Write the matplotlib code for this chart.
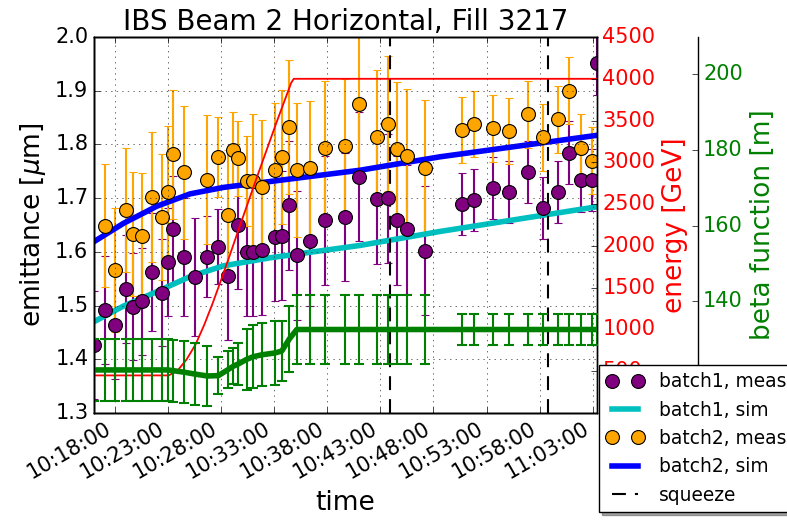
"""
IBS emittance growth, beam 2 horizontal, fill 3217.
Measured emittance per batch vs. IBS simulation, with energy ramp and beta function.
"""
from datetime import datetime
import numpy as np
import matplotlib
matplotlib.use("Agg")
import matplotlib.pyplot as plt
import matplotlib.dates as mdates

plt.style.use("classic")
plt.rcParams["mathtext.fontset"] = "dejavusans"

DAY = "2012-10-20 "
nan = np.nan

# --- measurements (wire scanner) ---
t_meas = ["10:16:02", "10:17:05", "10:18:01", "10:19:03", "10:19:44", "10:20:35",
          "10:21:28", "10:22:25", "10:22:59", "10:23:31", "10:24:32", "10:25:33",
          "10:26:43", "10:27:45", "10:28:40", "10:29:10", "10:29:38", "10:30:25",
          "10:31:02", "10:31:50", "10:33:05", "10:33:43", "10:34:26", "10:35:08",
          "10:36:23", "10:37:47", "10:39:41", "10:40:59", "10:42:43", "10:43:45",
          "10:44:32", "10:45:29", "10:47:13", "10:50:43", "10:51:51", "10:53:38",
          "10:55:09", "10:56:53", "10:58:21", "10:59:42", "11:00:46", "11:01:52",
          "11:02:55", "11:03:24"]
emit_b1 = [1.427, 1.492, 1.464, 1.531, 1.498, 1.508, 1.562, 1.524, 1.581, 1.642, 1.590,
           1.554, 1.591, 1.610, 1.556, nan, 1.650, 1.600, 1.600, 1.603, 1.628, 1.630,
           1.687, 1.594, 1.620, 1.659, 1.665, 1.740, 1.698, 1.700, 1.659, 1.642, 1.602,
           1.689, 1.697, 1.719, 1.712, 1.749, 1.682, 1.711, 1.785, 1.733, 1.734, 1.952]
err_b1 = [0.10, 0.10, 0.10, 0.10, 0.10, 0.10, 0.11, 0.10, 0.10, 0.10, 0.11,
          0.11, 0.075, 0.07, 0.12, nan, 0.12, 0.12, 0.12, 0.12, 0.12, 0.12,
          0.12, 0.12, 0.12, 0.12, 0.12, 0.12, 0.12, 0.12, 0.12, 0.12, 0.12,
          0.058, 0.058, 0.058, 0.058, 0.058, 0.058, 0.058, 0.058, 0.058, 0.058, 0.06]
emit_b2 = [nan, 1.649, 1.566, 1.678, 1.633, 1.630, 1.702, 1.665, 1.712, 1.782, 1.748,
           nan, 1.734, 1.777, 1.669, 1.790, 1.774, 1.732, 1.732, 1.720, 1.752, 1.777,
           1.833, 1.752, 1.756, 1.793, 1.797, 1.875, 1.813, 1.839, 1.791, 1.779, 1.757,
           1.827, 1.838, 1.830, 1.825, 1.856, 1.813, 1.847, 1.900, 1.794, 1.770, nan]
err_b2 = [nan, 0.115, 0.115, 0.116, 0.116, 0.116, 0.121, 0.118, 0.123, 0.12, 0.124,
          nan, 0.12, 0.075, 0.12, 0.07, 0.07, 0.083, 0.125, 0.125, 0.125, 0.125,
          0.125, 0.125, 0.125, 0.125, 0.125, 0.125, 0.125, 0.125, 0.125, 0.125, 0.125,
          0.062, 0.062, 0.062, 0.062, 0.062, 0.062, 0.062, 0.062, 0.062, 0.062, nan]
beta = [121.8, 121.8, 121.8, 121.8, 121.8, 121.8, 121.8, 121.8, 121.8, 121.6, 121.2,
        120.7, 120.2, 120.3, 121.9, 122.8, 123.4, 124.6, 125.3, 125.8, 126.3, 126.8,
        130.0, 132.5, 132.5, 132.5, 132.5, 132.5, 132.5, 132.5, 132.5, 132.5, 132.5,
        132.5, 132.5, 132.5, 132.5, 132.5, 132.5, 132.5, 132.5, 132.5, 132.5, 132.5]
beta_err = [8.2, 8.2, 8.2, 8.2, 8.2, 8.2, 8.2, 8.2, 8.2, 8.2, 8.2,
            8.2, 8.0, 5.0, 4.8, 4.8, 5.5, 8.0, 8.3, 8.3, 8.5, 8.0,
            8.8, 9.0, 9.0, 9.0, 9.0, 9.0, 9.0, 9.0, 9.0, 9.0, 9.0,
            4.0, 4.0, 4.0, 4.0, 4.0, 4.0, 4.0, 4.0, 4.0, 4.0, 4.0]

# --- IBS simulation ---
t_sim = ["10:16:02", "10:18:48", "10:21:57", "10:25:05", "10:28:13", "10:32:37",
         "10:41:05", "10:48:37", "11:03:24"]
sim_b1 = [1.470, 1.499, 1.526, 1.554, 1.574, 1.589, 1.612, 1.638, 1.684]
sim_b2 = [1.619, 1.653, 1.685, 1.708, 1.720, 1.731, 1.752, 1.777, 1.817]

# --- energy ramp ---
t_energy = ["10:16:02", "10:23:05", "10:23:55", "10:24:45", "10:25:36", "10:26:24",
            "10:27:12", "10:28:00", "10:28:48", "10:29:48", "10:31:24", "10:33:12",
            "10:34:36", "10:34:51", "11:03:24"]
energy = [450, 450, 510, 640, 820, 1050, 1310, 1590, 1880, 2250, 2830, 3470,
          3950, 4000, 4000]

t_squeeze = ["10:43:55", "10:58:47"]

energy_ticks = [500, 1000, 1500, 2000, 2500, 3000, 3500, 4000, 4500]
beta_ticks = [140, 160, 180, 200]


def to_dt(lst):
    return [datetime.strptime(DAY + s, "%Y-%m-%d %H:%M:%S") for s in lst]


tm = to_dt(t_meas)
ts = to_dt(t_sim)
te = to_dt(t_energy)
tq = to_dt(t_squeeze)

fig = plt.figure(figsize=(7.87, 5.26), dpi=100, facecolor="white")
ax = fig.add_axes([0.1194, 0.2148, 0.6391, 0.7148])

eb1 = ax.errorbar(tm, emit_b1, yerr=err_b1, fmt="o", color="purple", mec="k",
                  mew=0.8, ms=10, ecolor="purple", elinewidth=1.5, capsize=3,
                  capthick=1.5)
eb2 = ax.errorbar(tm, emit_b2, yerr=err_b2, fmt="o", color="orange", mec="k",
                  mew=0.8, ms=10, ecolor="orange", elinewidth=1.5, capsize=3,
                  capthick=1.5)
l1, = ax.plot(ts, sim_b1, "-", color="c", lw=4)
l2, = ax.plot(ts, sim_b2, "-", color="b", lw=4)
for t in tq:
    sq = ax.axvline(t, color="k", lw=1.5, dashes=(10, 6.5))

ax.set_xlim(tm[0], tm[-1])
ax.set_ylim(1.3, 2.0)
ax.grid(True, color="0.2")
ax.xaxis.set_major_locator(mdates.MinuteLocator(byminute=range(3, 60, 5)))
ax.xaxis.set_major_formatter(mdates.DateFormatter("%H:%M:%S"))
ax.tick_params(labelsize=15)
plt.setp(ax.get_xticklabels(), rotation=30, ha="right")
ax.set_xlabel("time", fontsize=19)
ax.set_ylabel(r"emittance [$\mu$m]", fontsize=19)
ax.set_title("IBS Beam 2 Horizontal, Fill 3217", fontsize=20)

# energy axis
ax_e = ax.twinx()
ax_e.plot(te, energy, "-", color="r", lw=1.3)
ax_e.set_ylim(0, 4500)
ax_e.set_yticks(energy_ticks)
ax_e.set_xlim(tm[0], tm[-1])
ax_e.tick_params(labelsize=15, labelcolor="r")
ax_e.set_ylabel("energy [GeV]", color="r", fontsize=19)

# beta function axis
ax_b = ax.twinx()
ax_b.spines["right"].set_position(("axes", 1.2))
ax_b.errorbar(tm, beta, yerr=beta_err, fmt="-", color="g", lw=4, ecolor="g",
              elinewidth=1.5, capsize=3.5, capthick=1.5)
ax_b.set_ylim(110.4, 209.9)
ax_b.set_yticks(beta_ticks)
ax_b.set_xlim(tm[0], tm[-1])
ax_b.tick_params(labelsize=15, labelcolor="g")
ax_b.set_ylabel("beta function [m]", color="g", fontsize=19)

ax_b.legend([eb1[0], l1, eb2[0], l2, sq],
            ["batch1, meas", "batch1, sim", "batch2, meas", "batch2, sim", "squeeze"],
            loc="upper left", bbox_to_anchor=(1.004, 0.128),
            bbox_transform=ax.transAxes, borderaxespad=0, fontsize=13.4,
            labelspacing=0.5, numpoints=2, shadow=True)

fig.savefig("out.png", dpi=100, facecolor="white")
